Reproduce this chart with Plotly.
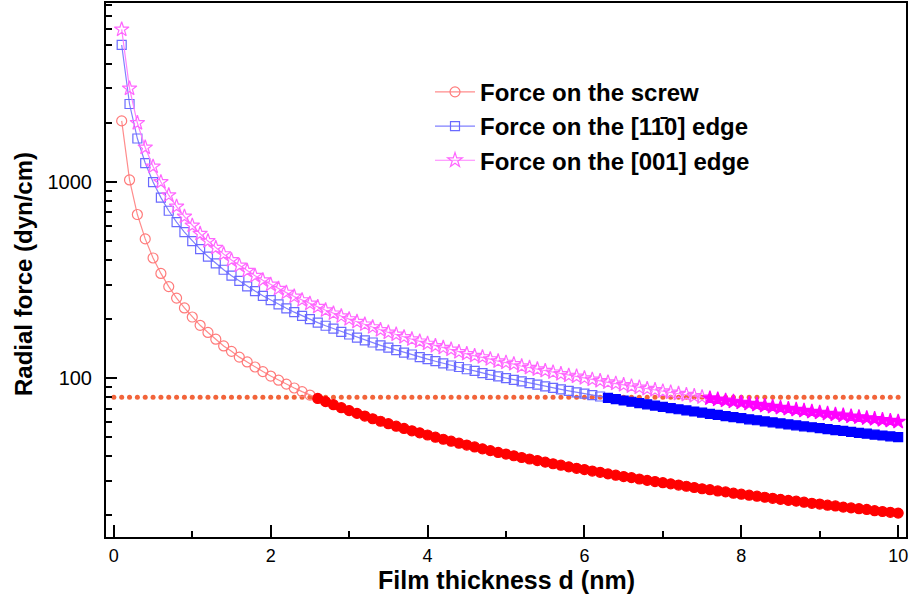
import plotly.graph_objects as go

thickness = [0.1, 0.2, 0.3, 0.4, 0.5, 0.6, 0.7, 0.8, 0.9, 1.0,
             1.1, 1.2, 1.3, 1.4, 1.5, 1.6, 1.7, 1.8, 1.9, 2.0,
             2.1, 2.2, 2.3, 2.4, 2.5, 2.6, 2.7, 2.8, 2.9, 3.0,
             3.1, 3.2, 3.3, 3.4, 3.5, 3.6, 3.7, 3.8, 3.9, 4.0,
             4.1, 4.2, 4.3, 4.4, 4.5, 4.6, 4.7, 4.8, 4.9, 5.0,
             5.1, 5.2, 5.3, 5.4, 5.5, 5.6, 5.7, 5.8, 5.9, 6.0,
             6.1, 6.2, 6.3, 6.4, 6.5, 6.6, 6.7, 6.8, 6.9, 7.0,
             7.1, 7.2, 7.3, 7.4, 7.5, 7.6, 7.7, 7.8, 7.9, 8.0,
             8.1, 8.2, 8.3, 8.4, 8.5, 8.6, 8.7, 8.8, 8.9, 9.0,
             9.1, 9.2, 9.3, 9.4, 9.5, 9.6, 9.7, 9.8, 9.9, 10.0]

force_screw = [2050, 1025, 683, 513, 410, 342, 293, 256, 228, 205,
               186, 171, 158, 146, 137, 128, 121, 114, 108, 102.5,
               97.6, 93.2, 89.1, 85.4, 82.0, 78.8, 75.9, 73.2, 70.7, 68.3,
               66.1, 64.1, 62.1, 60.3, 58.6, 56.9, 55.4, 53.9, 52.6, 51.3,
               50.0, 48.8, 47.7, 46.6, 45.6, 44.6, 43.6, 42.7, 41.8, 41.0,
               40.2, 39.4, 38.7, 38.0, 37.3, 36.6, 36.0, 35.3, 34.7, 34.2,
               33.6, 33.1, 32.5, 32.0, 31.5, 31.1, 30.6, 30.1, 29.7, 29.3,
               28.9, 28.5, 28.1, 27.7, 27.3, 27.0, 26.6, 26.3, 25.9, 25.6,
               25.3, 25.0, 24.7, 24.4, 24.1, 23.8, 23.6, 23.3, 23.0, 22.8,
               22.5, 22.3, 22.0, 21.8, 21.6, 21.4, 21.1, 20.9, 20.7, 20.5]

force_edge_110 = [5000, 2500, 1667, 1250, 1000, 833, 714, 625, 556, 500,
                  455, 417, 385, 357, 333, 313, 294, 278, 263, 250,
                  238, 227, 217, 208, 200, 192, 185, 179, 172, 167,
                  161, 156, 152, 147, 143, 139, 135, 132, 128, 125,
                  122, 119, 116, 114, 111, 109, 106, 104, 102, 100,
                  98.0, 96.2, 94.3, 92.6, 90.9, 89.3, 87.7, 86.2, 84.7, 83.3,
                  82.0, 80.6, 79.4, 78.1, 76.9, 75.8, 74.6, 73.5, 72.5, 71.4,
                  70.4, 69.4, 68.5, 67.6, 66.7, 65.8, 64.9, 64.1, 63.3, 62.5,
                  61.7, 61.0, 60.2, 59.5, 58.8, 58.1, 57.5, 56.8, 56.2, 55.6,
                  54.9, 54.3, 53.8, 53.2, 52.6, 52.1, 51.5, 51.0, 50.5, 50.0]

force_edge_001 = [6000, 3000, 2000, 1500, 1200, 1000, 857, 750, 667, 600,
                  545, 500, 462, 429, 400, 375, 353, 333, 316, 300,
                  286, 273, 261, 250, 240, 231, 222, 214, 207, 200,
                  194, 188, 182, 176, 171, 167, 162, 158, 154, 150,
                  146, 143, 140, 136, 133, 130, 128, 125, 122, 120,
                  118, 115, 113, 111, 109, 107, 105, 103, 102, 100,
                  98.4, 96.8, 95.2, 93.8, 92.3, 90.9, 89.6, 88.2, 87.0, 85.7,
                  84.5, 83.3, 82.2, 81.1, 80.0, 78.9, 77.9, 76.9, 75.9, 75.0,
                  74.1, 73.2, 72.3, 71.4, 70.6, 69.8, 69.0, 68.2, 67.4, 66.7,
                  65.9, 65.2, 64.5, 63.8, 63.2, 62.5, 61.9, 61.2, 60.6, 60.0]

threshold = 80
threshold_x = [0.0] + thickness

FONT = "Liberation Sans, Arial, sans-serif"

fig = go.Figure()

fig.add_trace(go.Scatter(
    x=threshold_x, y=[threshold] * len(threshold_x), mode="markers",
    marker=dict(symbol="circle", size=5, color="#f2643a", line=dict(width=0)),
    showlegend=False, hoverinfo="skip"))

series = [
    ("Force on the screw", force_screw, "circle", 10, "#ff7a7a", "#ff0000", "#ff8c8c"),
    ("Force on the [11\u03040] edge", force_edge_110, "square", 9, "#6a6aff", "#0000ff", "#8080ff"),
    ("Force on the [001] edge", force_edge_001, "star", 11, "#ff66ff", "#ff00ff", "#ff80ff"),
]

for i, (name, vals, sym, size, open_col, fill_col, line_col) in enumerate(series):
    symbols = [sym + "-open" if v >= threshold else sym for v in vals]
    colors = [open_col if v >= threshold else fill_col for v in vals]
    fig.add_trace(go.Scatter(
        x=thickness, y=vals, mode="lines+markers", name=name,
        line=dict(color=line_col, width=1.2),
        marker=dict(symbol=symbols, size=size, color=colors,
                    line=dict(width=1.2, color=colors)),
    ))

minor_y = [20, 30, 40, 50, 60, 70, 80, 90, 200, 300, 400, 500, 600, 700, 800, 900,
           2000, 3000, 4000, 5000, 6000, 7000, 8000]

fig.update_layout(
    width=911, height=596,
    margin=dict(l=106, r=5, t=3, b=59, autoexpand=False),
    paper_bgcolor="white", plot_bgcolor="white",
    font=dict(family=FONT, color="black"),
    showlegend=True,
    legend=dict(x=0.405, y=0.875, xanchor="left", yanchor="top",
                font=dict(family=FONT, size=24, color="black", weight="bold"),
                bgcolor="rgba(0,0,0,0)", tracegroupgap=0, itemwidth=40),
    xaxis=dict(range=[-0.1, 10.1], tickvals=[0, 2, 4, 6, 8, 10],
               ticks="inside", ticklen=12, tickwidth=2, tickcolor="black",
               showline=True, linewidth=2, linecolor="black", mirror=True,
               showgrid=False, zeroline=False, automargin=False,
               tickfont=dict(size=18, family=FONT),
               ticklabelstandoff=1,
               minor=dict(tickvals=[1, 3, 5, 7, 9], ticks="inside", ticklen=6,
                          tickwidth=2, tickcolor="black", showgrid=False)),
    yaxis=dict(type="log", range=[1.19, 3.913], tickvals=[100, 1000],
               ticktext=["100", "1000"],
               ticks="inside", ticklen=11, tickwidth=2, tickcolor="black",
               showline=True, linewidth=2, linecolor="black", mirror=True,
               showgrid=False, zeroline=False, automargin=False,
               tickfont=dict(size=20, family=FONT),
               ticklabelstandoff=8,
               minor=dict(tickvals=minor_y, ticks="inside", ticklen=6,
                          tickwidth=2, tickcolor="black", showgrid=False)),
)

fig.add_annotation(text="<b>Radial force (dyn/cm)</b>", xref="paper", yref="paper",
                   x=(23 - 106) / 800, y=(537 - 274) / 534, textangle=-90,
                   xanchor="center", yanchor="middle", showarrow=False,
                   font=dict(size=24, family=FONT, color="black"))

fig.add_annotation(text="<b>Film thickness d (nm)</b>", xref="paper", yref="paper",
                   x=0.5, y=(537 - 580) / 534,
                   xanchor="center", yanchor="middle", showarrow=False,
                   font=dict(size=25, family=FONT, color="black"))

fig.write_html("out.html",
               config={"displayModeBar": False},
               post_script="document.body.style.margin='0px';")
